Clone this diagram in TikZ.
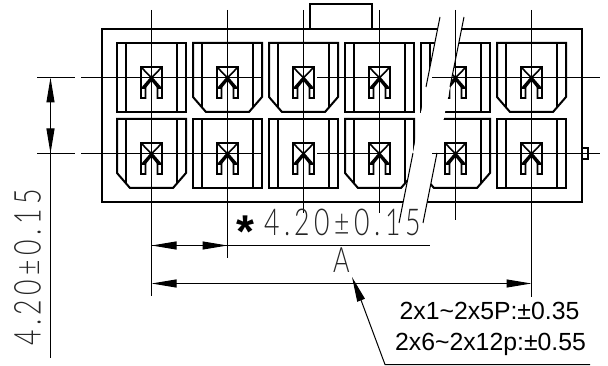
\documentclass[tikz,border=0pt]{standalone}
\usepackage{fontspec}
\usetikzlibrary{arrows.meta}
\setmainfont{Liberation Sans}
\newfontfamily\cadfont[LetterSpace=12,FakeStretch=0.72]{Lato Light}
\newfontfamily\cadA[FakeStretch=0.72]{Lato Light}
\tikzset{
  heavy/.style={line width=2pt,black,line join=miter},
  part/.style={line width=2pt,black,line join=miter},
  thin/.style={line width=1pt,black},
  dimtip/.style={line width=1pt,black,-{Triangle[length=25pt,width=8pt]}},
  dimboth/.style={line width=1pt,black,{Triangle[length=25pt,width=8pt]}-{Triangle[length=25pt,width=8pt]}},
  cadtext/.style={inner sep=0pt,outer sep=0pt,text=black!85},
  notetext/.style={inner sep=0pt,outer sep=0pt,text=black}
}
% plain cell: #1 left x, #2 top y
\newcommand{\cellplain}[2]{%
  \draw[part] (#1+1,#2) rectangle ++(69,69);
  \draw[part] (#1+10,#2) -- ++(0,69) (#1+61,#2) -- ++(0,69);
  \contactpart{#1+35.5}{#2+24}}
\newcommand{\cellcham}[2]{%
  \draw[part] (#1+1,#2) -- ++(69,0) -- ++(0,54) -- ++(-13,15) -- ++(-43,0) -- ++(-13,-15) -- cycle;
  \draw[part] (#1+10,#2) -- ++(0,65) (#1+61,#2) -- ++(0,65);
  \contactpart{#1+35.5}{#2+24}}
% contact: #1 centre x, #2 top y
\newcommand{\contactpart}[2]{%
  \draw[line width=1.6pt,black,line join=miter]
    (#1-10.5,#2+21) -- (#1-10.5,#2) -- (#1+10.5,#2) -- (#1+10.5,#2+21)
    (#1-10.5,#2) -- (#1+3,#2+14) (#1+10.5,#2) -- (#1-3,#2+14)
    (#1-10.5,#2+21) rectangle (#1-6,#2+31)
    (#1+6,#2+21) rectangle (#1+10.5,#2+31);
  \fill[black] (#1,#2+9) -- (#1+10.5,#2+21) -- (#1+6.5,#2+22) -- (#1,#2+14)
    -- (#1-6.5,#2+22) -- (#1-10.5,#2+21) -- cycle;}
\begin{document}
\begin{tikzpicture}[x=1pt,y=-1pt]
\useasboundingbox[fill=white] (0,0) rectangle (608,366);
% housing
\draw[heavy] (102,29) rectangle (582,202);
\draw[heavy] (310,29) -- (310,4) -- (372,4) -- (372,29);
\draw[part] (582,148.5) rectangle (588,159);
% cells, top row
\cellplain{116}{43}
\cellcham{192}{43}
\cellcham{268}{43}
\cellplain{344}{43}
\cellplain{420}{43}
\cellcham{496}{43}
% cells, bottom row
\cellcham{116}{119}
\cellplain{192}{119}
\cellplain{268}{119}
\cellcham{344}{119}
\cellcham{420}{119}
\cellplain{496}{119}
% break band
\fill[white] (440,17) -- (464,17) -- (423,223) -- (399,223) -- cycle;
\draw[thin] (440,17) -- (426,87) (464,17) -- (450,87);
\draw[thin] (413,153) -- (399,223) (437,153) -- (423,223);
% centre lines, vertical
\draw[thin] (151.5,10) -- (151.5,296);
\draw[thin] (227.5,10) -- (227.5,258);
\draw[thin] (303.5,10) -- (303.5,213);
\draw[thin] (379.5,10) -- (379.5,213);
\draw[thin] (455.5,10) -- (455.5,220);
\draw[thin] (531.5,10) -- (531.5,297);
% centre lines, horizontal
\foreach \y in {77.5,153.5}{
  \draw[thin] (37,\y) -- (75,\y);
  \draw[thin] (81,\y) -- (262,\y);
  \draw[thin] (317,\y) -- (379,\y);
  \draw[thin] (432,\y) -- (600,\y);
}
% left dimension
\draw[thin] (50.5,128) -- (50.5,358);
\draw[dimboth] (50.5,77.5) -- (50.5,153.5);
% pitch dimension
\draw[thin] (151.5,245.5) -- (430,245.5);
\draw[dimtip] (176,245.5) -- (151.5,245.5);
\draw[dimtip] (202,245.5) -- (227.5,245.5);
% overall dimension
\draw[dimboth] (151.5,283.5) -- (531.5,283.5);
% leader
\draw[thin] (590,364.5) -- (385,364.5) -- (361,300);
\draw[dimtip] (361,300) -- (352,277);
% texts
\node[cadtext,rotate=90] (dimv) at (27.5,267.5) {\cadfont\fontsize{37}{37}\selectfont 4.20±0.15};
\node[cadtext] (dimh) at (342.5,222.5) {\cadfont\fontsize{37}{37}\selectfont 4.20±0.15};
\node[notetext] (star) at (245,232) {\fontsize{46}{46}\selectfont\bfseries *};
\node[cadtext] (dima) at (341.5,260.5) {\cadA\fontsize{35}{35}\selectfont A};
\node[notetext,anchor=base] (note1) at (489.5,319) {\fontsize{24.8}{24.8}\selectfont 2x1\textasciitilde 2x5P:±0.35};
\node[notetext,anchor=base] (note2) at (490.5,350) {\fontsize{24.8}{24.8}\selectfont 2x6\textasciitilde 2x12p:±0.55};
\end{tikzpicture}
\end{document}
